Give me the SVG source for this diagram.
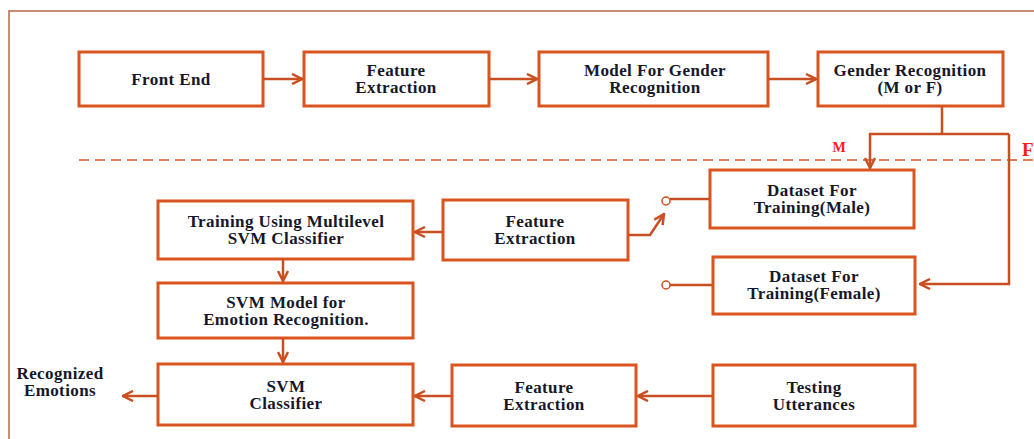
<svg xmlns="http://www.w3.org/2000/svg" width="1034" height="439" viewBox="0 0 1034 439">
<style>
.box{fill:#fff;stroke:#d9541e;stroke-width:3}
.t{font-family:"Liberation Serif","Times New Roman","DejaVu Serif",serif;font-weight:bold;font-size:17px;letter-spacing:0.4px;fill:#16182a;text-anchor:middle}
.c{fill:none;stroke:#c94f22;stroke-width:2.5}
.lbl{font-family:"Liberation Serif","Times New Roman","DejaVu Serif",serif;font-weight:bold;fill:#ff1a1a}
</style>
<defs>
<marker id="ah" viewBox="0 0 10 10" refX="9" refY="5" markerWidth="5" markerHeight="5" markerUnits="strokeWidth" orient="auto">
<path d="M1,1 L9,5 L1,9" fill="none" stroke="#c94f22" stroke-width="2"/>
</marker>
</defs>
<rect width="1034" height="439" fill="#fff"/>
<path d="M9,439 V11 H1034" fill="none" stroke="#b8654a" stroke-width="1.5"/>
<line x1="79" y1="160" x2="1034" y2="160" stroke="#d9541e" stroke-width="1.5" stroke-dasharray="10,6"/>
<text class="lbl" x="839" y="152" font-size="14" text-anchor="middle">M</text>
<text class="lbl" x="1022" y="156" font-size="19">F</text>

<g id="front-end"><rect class="box" x="79" y="52" width="184" height="54"/><text class="t" x="171" y="85">Front End</text></g>
<g id="feature-extraction-1"><rect class="box" x="304" y="52" width="185" height="54"/><text class="t" x="396" y="76">Feature</text><text class="t" x="396" y="93">Extraction</text></g>
<g id="model-gender"><rect class="box" x="539" y="52" width="229" height="54"/><text class="t" x="655" y="76">Model For Gender</text><text class="t" x="655" y="93">Recognition</text></g>
<g id="gender-recognition"><rect class="box" x="818" y="52" width="185" height="54"/><text class="t" x="910" y="76">Gender Recognition</text><text class="t" x="910" y="93">(M or F)</text></g>
<g id="dataset-male"><rect class="box" x="710" y="170" width="204" height="58"/><text class="t" x="812" y="196">Dataset For</text><text class="t" x="812" y="213">Training(Male)</text></g>
<g id="dataset-female"><rect class="box" x="713" y="257" width="202" height="57"/><text class="t" x="814" y="282">Dataset For</text><text class="t" x="814" y="299">Training(Female)</text></g>
<g id="feature-extraction-2"><rect class="box" x="443" y="200" width="185" height="60"/><text class="t" x="535" y="227">Feature</text><text class="t" x="535" y="244">Extraction</text></g>
<g id="training-svm"><rect class="box" x="158" y="201" width="255" height="58"/><text class="t" x="286" y="227">Training Using Multilevel</text><text class="t" x="286" y="244">SVM Classifier</text></g>
<g id="svm-model"><rect class="box" x="158" y="283" width="255" height="55"/><text class="t" x="286" y="308">SVM Model for</text><text class="t" x="286" y="325">Emotion Recognition.</text></g>
<g id="svm-classifier"><rect class="box" x="158" y="364" width="255" height="61"/><text class="t" x="286" y="392">SVM</text><text class="t" x="286" y="409">Classifier</text></g>
<g id="feature-extraction-3"><rect class="box" x="452" y="365" width="184" height="61"/><text class="t" x="544" y="393">Feature</text><text class="t" x="544" y="410">Extraction</text></g>
<g id="testing-utterances"><rect class="box" x="713" y="365" width="202" height="61"/><text class="t" x="814" y="393">Testing</text><text class="t" x="814" y="410">Utterances</text></g>
<g id="recognized-emotions"><text class="t" x="60" y="379">Recognized</text><text class="t" x="60" y="396">Emotions</text></g>

<g id="connectors">
<line class="c" x1="263" y1="79" x2="302" y2="79" marker-end="url(#ah)"/>
<line class="c" x1="489" y1="79" x2="537" y2="79" marker-end="url(#ah)"/>
<line class="c" x1="768" y1="79" x2="816" y2="79" marker-end="url(#ah)"/>
<path class="c" d="M942,106 V134"/>
<path class="c" d="M1009,134 H870 V168" marker-end="url(#ah)"/>
<path class="c" d="M1009,134 V284 H920" marker-end="url(#ah)"/>
<line class="c" x1="670" y1="199" x2="710" y2="199" stroke-width="2"/>
<circle cx="666" cy="201" r="4" fill="#fff" stroke="#c94f22" stroke-width="1.5"/>
<line class="c" x1="670" y1="285" x2="713" y2="285" stroke-width="2"/>
<circle cx="666" cy="285" r="4" fill="#fff" stroke="#c94f22" stroke-width="1.5"/>
<path class="c" d="M628,235 H650 L664,214" marker-end="url(#ah)"/>
<line class="c" x1="443" y1="232" x2="415" y2="232" marker-end="url(#ah)"/>
<line class="c" x1="283" y1="259" x2="283" y2="281" marker-end="url(#ah)"/>
<line class="c" x1="283" y1="338" x2="283" y2="362" marker-end="url(#ah)"/>
<line class="c" x1="452" y1="396" x2="415" y2="396" marker-end="url(#ah)"/>
<line class="c" x1="713" y1="396" x2="638" y2="396" marker-end="url(#ah)"/>
<line class="c" x1="158" y1="396" x2="123" y2="396" marker-end="url(#ah)"/>
</g>
</svg>
